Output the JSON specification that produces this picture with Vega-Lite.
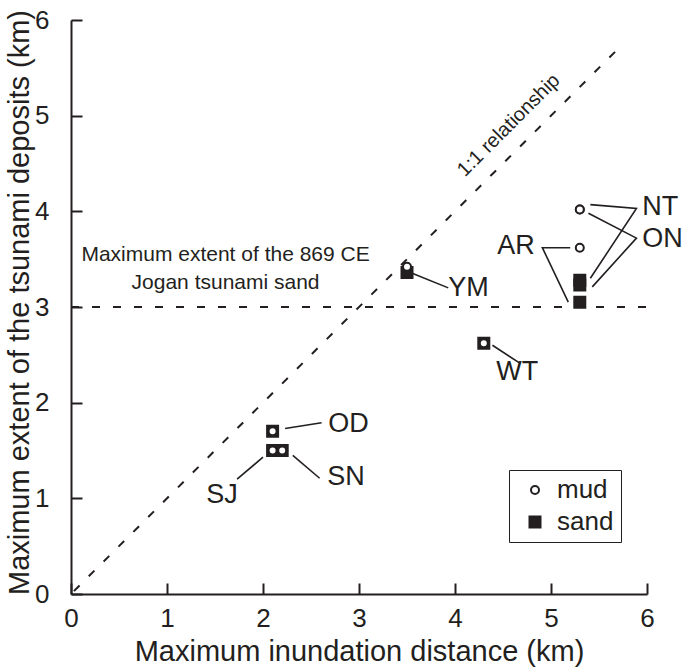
{
  "$schema": "https://vega.github.io/schema/vega-lite/v6.json",
  "width": 576,
  "height": 574,
  "autosize": {"type": "none"},
  "padding": {"left": 71, "top": 20, "right": 38, "bottom": 75},
  "background": "white",
  "config": {
    "view": {"stroke": null},
    "font": "Liberation Sans",
    "axis": {
      "grid": false,
      "domainColor": "#231f20",
      "domainWidth": 2,
      "tickColor": "#231f20",
      "tickWidth": 2,
      "tickSize": -11,
      "labelFont": "Liberation Sans",
      "labelFontSize": 26,
      "labelColor": "#231f20",
      "labelFlush": false,
      "format": "d",
      "titleFont": "Liberation Sans",
      "titleFontSize": 29,
      "titleFontWeight": "normal",
      "titleColor": "#231f20"
    }
  },
  "datasets": {
    "pts": [
      {"site": "YM", "type": "sand", "x": 3.5, "y": 3.36},
      {"site": "WT", "type": "sand", "x": 4.3, "y": 2.62},
      {"site": "OD", "type": "sand", "x": 2.1, "y": 1.70},
      {"site": "SJ", "type": "sand", "x": 2.1, "y": 1.50},
      {"site": "SN", "type": "sand", "x": 2.2, "y": 1.50},
      {"site": "AR", "type": "sand", "x": 5.3, "y": 3.05},
      {"site": "NT", "type": "sand", "x": 5.3, "y": 3.28},
      {"site": "ON", "type": "sand", "x": 5.3, "y": 3.23},
      {"site": "YM", "type": "mud", "x": 3.5, "y": 3.42},
      {"site": "WT", "type": "mud", "x": 4.3, "y": 2.62},
      {"site": "OD", "type": "mud", "x": 2.1, "y": 1.70},
      {"site": "SJ", "type": "mud", "x": 2.1, "y": 1.50},
      {"site": "SN", "type": "mud", "x": 2.2, "y": 1.50},
      {"site": "AR", "type": "mud", "x": 5.3, "y": 3.62},
      {"site": "NT", "type": "mud", "x": 5.3, "y": 4.02},
      {"site": "ON", "type": "mud", "x": 5.3, "y": 4.02}
    ],
    "leaders": [
      {"id": "YM", "ord": 1, "x": 3.56, "y": 3.35},
      {"id": "YM", "ord": 2, "x": 3.93, "y": 3.20},
      {"id": "WT", "ord": 1, "x": 4.39, "y": 2.60},
      {"id": "WT", "ord": 2, "x": 4.68, "y": 2.41},
      {"id": "OD", "ord": 1, "x": 2.23, "y": 1.73},
      {"id": "OD", "ord": 2, "x": 2.61, "y": 1.79},
      {"id": "SJ", "ord": 1, "x": 2.0, "y": 1.43},
      {"id": "SJ", "ord": 2, "x": 1.73, "y": 1.20},
      {"id": "SN", "ord": 1, "x": 2.31, "y": 1.45},
      {"id": "SN", "ord": 2, "x": 2.59, "y": 1.21},
      {"id": "AR", "ord": 1, "x": 5.2, "y": 3.62},
      {"id": "AR", "ord": 2, "x": 4.91, "y": 3.62},
      {"id": "AR", "ord": 3, "x": 5.18, "y": 3.05},
      {"id": "NT", "ord": 1, "x": 5.41, "y": 4.07},
      {"id": "NT", "ord": 2, "x": 5.89, "y": 4.03},
      {"id": "NT", "ord": 3, "x": 5.41, "y": 3.30},
      {"id": "ON", "ord": 1, "x": 5.39, "y": 3.98},
      {"id": "ON", "ord": 2, "x": 5.89, "y": 3.72},
      {"id": "ON", "ord": 3, "x": 5.43, "y": 3.21}
    ],
    "labels": [
      {"site": "YM", "x": 3.93, "y": 3.20},
      {"site": "WT", "x": 4.43, "y": 2.32},
      {"site": "OD", "x": 2.68, "y": 1.78},
      {"site": "SN", "x": 2.67, "y": 1.22},
      {"site": "SJ", "x": 1.41, "y": 1.04},
      {"site": "AR", "x": 4.44, "y": 3.64},
      {"site": "NT", "x": 5.95, "y": 4.05},
      {"site": "ON", "x": 5.95, "y": 3.71}
    ],
    "refs": [
      {"name": "jogan", "x": 0, "y": 3, "x2": 6, "y2": 3},
      {"name": "one-to-one", "x": 0.03, "y": 0.03, "x2": 5.75, "y2": 5.75}
    ],
    "notes": [
      {"text": "Maximum extent of the 869 CE", "x": 1.61, "y": 3.54},
      {"text": "Jogan tsunami sand", "x": 1.61, "y": 3.25}
    ],
    "diag": [
      {"text": "1:1 relationship", "x": 4.56, "y": 4.90}
    ]
  },
  "layer": [
    {
      "data": {"name": "refs"},
      "mark": {"type": "rule", "color": "#231f20", "strokeWidth": 2, "strokeDash": [8, 13]},
      "encoding": {
        "x": {"field": "x", "type": "quantitative", "scale": {"domain": [0, 6], "nice": false},
          "axis": {"values": [0, 1, 2, 3, 4, 5, 6], "title": "Maximum inundation distance (km)", "labelPadding": 22, "titleY": 66, "titleBaseline": "alphabetic"}},
        "y": {"field": "y", "type": "quantitative", "scale": {"domain": [0, 6], "nice": false},
          "axis": {"values": [0, 1, 2, 3, 4, 5, 6], "title": "Maximum extent of the tsunami deposits (km)", "labelPadding": 33, "titleX": -43, "titleY": 282, "titleAlign": "center", "titleBaseline": "alphabetic"}},
        "x2": {"field": "x2"},
        "y2": {"field": "y2"}
      }
    },
    {
      "data": {"name": "leaders"},
      "mark": {"type": "line", "color": "#231f20", "strokeWidth": 1.6},
      "encoding": {
        "x": {"field": "x", "type": "quantitative"},
        "y": {"field": "y", "type": "quantitative"},
        "detail": {"field": "id"},
        "order": {"field": "ord", "type": "quantitative"}
      }
    },
    {
      "data": {"name": "pts"},
      "mark": {"type": "point", "filled": true, "stroke": "#231f20", "strokeWidth": 2, "opacity": 1},
      "encoding": {
        "x": {"field": "x", "type": "quantitative"},
        "y": {"field": "y", "type": "quantitative"},
        "shape": {"field": "type", "type": "nominal", "scale": {"domain": ["mud", "sand"], "range": ["circle", "square"]},
          "legend": {"title": null, "orient": "none", "legendX": 438, "legendY": 450, "padding": 7, "strokeColor": "#231f20", "symbolOffset": 6, "labelOffset": 9, "rowPadding": 6, "labelFontSize": 26, "labelFont": "Liberation Sans", "labelColor": "#231f20", "symbolStrokeColor": "#231f20", "symbolStrokeWidth": 2}},
        "fill": {"field": "type", "type": "nominal", "scale": {"domain": ["mud", "sand"], "range": ["white", "#231f20"]}},
        "size": {"field": "type", "type": "ordinal", "scale": {"domain": ["mud", "sand"], "range": [64, 121]}}
      }
    },
    {
      "data": {"name": "labels"},
      "mark": {"type": "text", "align": "left", "baseline": "middle", "fontSize": 27, "font": "Liberation Sans", "color": "#231f20"},
      "encoding": {
        "x": {"field": "x", "type": "quantitative"},
        "y": {"field": "y", "type": "quantitative"},
        "text": {"field": "site"}
      }
    },
    {
      "data": {"name": "notes"},
      "mark": {"type": "text", "align": "center", "baseline": "middle", "fontSize": 21, "font": "Liberation Sans", "color": "#231f20"},
      "encoding": {
        "x": {"field": "x", "type": "quantitative"},
        "y": {"field": "y", "type": "quantitative"},
        "text": {"field": "text"}
      }
    },
    {
      "data": {"name": "diag"},
      "mark": {"type": "text", "align": "center", "baseline": "middle", "fontSize": 20, "angle": -45, "font": "Liberation Sans", "color": "#231f20"},
      "encoding": {
        "x": {"field": "x", "type": "quantitative"},
        "y": {"field": "y", "type": "quantitative"},
        "text": {"field": "text"}
      }
    }
  ]
}
